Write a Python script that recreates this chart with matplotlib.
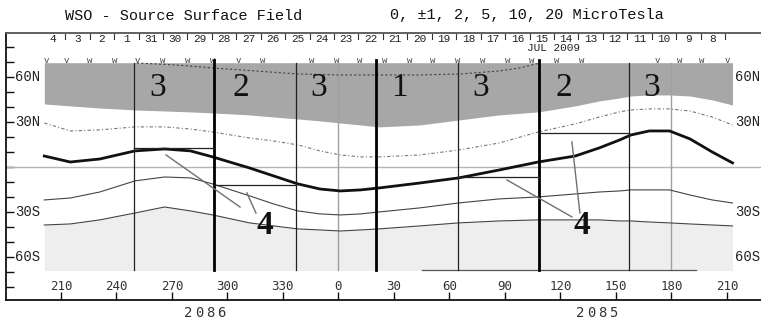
import matplotlib

matplotlib.use("Agg")
import matplotlib.pyplot as plt
import matplotlib.transforms as mtransforms

# Carrington longitude, run continuously (label "0" sits at 360)
LON = [201, 215, 231, 250, 266, 280, 292, 312, 325, 338, 350, 361, 372, 382,
       404, 425, 447, 468, 488, 501, 512, 518, 528, 539, 550, 562, 573]
POLAR_EDGE = [42.0, 40.7, 39.3, 38.0, 37.3, 36.7, 36.0, 34.7, 33.3, 32.0, 30.7, 29.3, 28.0, 26.7,
              28.0, 31.3, 34.7, 36.7, 40.7, 44.0, 46.0, 47.3, 48.0, 48.0, 47.3, 44.7, 41.3]
DOTTED_30N = [29.3, 24.0, 24.7, 26.7, 26.7, 25.3, 23.3, 19.3, 17.3, 14.7, 10.7, 8.0, 6.7, 6.7,
              8.0, 11.3, 16.0, 23.3, 28.7, 33.3, 36.7, 38.0, 38.7, 38.7, 37.3, 33.3, 28.0]
NEUTRAL = [7.3, 3.3, 5.3, 10.7, 12.0, 10.7, 6.7, -0.7, -6.0, -11.3, -14.7, -16.0, -15.3, -14.0,
           -10.7, -7.3, -2.0, 3.3, 7.3, 12.7, 18.0, 21.3, 24.0, 24.0, 18.7, 10.0, 2.7]
CONTOUR_S = [-22.0, -20.7, -16.7, -9.3, -6.7, -7.3, -11.3, -19.3, -24.7, -29.3, -31.3, -32.0, -31.3, -30.0,
             -27.3, -24.0, -21.3, -20.0, -18.0, -16.7, -16.0, -15.3, -15.3, -15.3, -18.7, -22.0, -24.0]
SOUTH_EDGE = [-38.7, -38.0, -35.3, -30.7, -26.7, -29.3, -32.0, -37.3, -39.3, -41.3, -42.0, -42.7, -42.0, -41.3,
              -39.3, -37.3, -36.0, -35.3, -35.3, -35.3, -36.0, -36.0, -36.7, -37.3, -38.0, -38.7, -39.3]

POLAR_DOT_LON = [251, 272, 292, 315, 338, 361, 382, 404, 426, 447, 458, 469]
POLAR_DOT_LAT = [69.3, 68.0, 66.0, 64.0, 62.0, 61.3, 61.3, 61.3, 62.0, 64.0, 66.0, 69.3]

THIN_BOUNDS = [249.5, 337.3, 424.6, 517.0]
THICK_BOUNDS = [292.7, 380.3, 468.4]
GRID_LON = [360, 540]

SECTOR_TEXT = ["3", "2", "3", "1", "3", "2", "3"]
SECTOR_LON = [262.4, 307.3, 349.5, 392.7, 437.0, 481.9, 529.5]

STEP_START = [249.5, 292.7, 424.6, 468.4]
STEP_END = [292.7, 337.3, 468.4, 517.0]
STEP_LAT = [12.7, -12.0, -6.7, 22.7]

POINTER_LON = [(266.8, 306.8), (310.5, 315.4), (451.1, 486.2), (486.2, 490.5)]
POINTER_LAT = [(8.0, -26.7), (-17.3, -30.7), (-8.7, -33.3), (16.7, -30.7)]
FOUR_LON = [320.3, 491.6]

DAYS = [4, 3, 2, 1, 31, 30, 29, 28, 27, 26, 25, 24, 23, 22, 21, 20, 19, 18, 17, 16,
        15, 14, 13, 12, 11, 10, 9, 8]
FIRST_DAY_LON = 205.7
DEG_PER_DAY = 13.21

OBS_LON = [202.4, 213.2, 225.7, 239.2, 251.1, 265.1, 278.6, 292.2, 305.7, 319.2, 345.7, 359.2, 371.6,
           385.1, 398.6, 411.1, 424.6, 438.1, 451.6, 464.6, 478.1, 491.6, 532.2, 544.6, 556.5, 570.5]
OBS_MARK = "vvwwvwwwvwwwwwwwwwwwwwvwwv"

LON_TICKS = [210, 240, 270, 300, 330, 360, 390, 420, 450, 480, 510, 540, 570]
LON_LABELS = ["210", "240", "270", "300", "330", "0", "30", "60", "90", "120", "150", "180", "210"]
LAT_LABELS = {60: "60N", 30: "30N", -30: "30S", -60: "60S"}

MAP_TOP, MAP_BOTTOM = 69.5, -69.0
MONO = "Liberation Mono"


def spaced_text(ax, x, y, s, step_px, **kw):
    # letter-spaced label centred on (x, y)
    n = len(s)
    for i, ch in enumerate(s):
        tr = mtransforms.offset_copy(ax.transData, fig=ax.figure, x=(i - (n - 1) / 2) * step_px, y=0, units="dots")
        ax.text(x, y, ch, transform=tr, ha="center", va="center", clip_on=False, **kw)


fig = plt.figure(figsize=(7.61, 3.25), dpi=100)
ax = fig.add_axes([6 / 761, 1 - 300 / 325, 755 / 761, 267 / 325])
ax.set_xlim(180.3, 588.4)
ax.set_ylim(-88.7, 89.3)

for side in ("left", "bottom"):
    ax.spines[side].set_color("#111111")
    ax.spines[side].set_linewidth(1.3)
ax.spines["top"].set_color("#555555")
ax.spines["top"].set_linewidth(1.3)
ax.spines["right"].set_visible(False)

ax.set_yticks(range(-80, 81, 10))
ax.set_xticks(LON_TICKS)
ax.tick_params(axis="both", direction="in", length=6, width=1, color="#111111",
               labelleft=False, labelbottom=False)

# shaded polar regions
ax.fill_between(LON, POLAR_EDGE, MAP_TOP, color="#a7a7a7", lw=0, zorder=1)
ax.fill_between(LON, MAP_BOTTOM, SOUTH_EDGE, color="#eeeeee", lw=0, zorder=1)

ax.axhline(0, color="#b5b5b5", lw=1, zorder=2)
for lon in GRID_LON:
    ax.plot([lon, lon], [MAP_TOP, MAP_BOTTOM], color="#a0a0a0", lw=1, zorder=2)

ax.plot(POLAR_DOT_LON, POLAR_DOT_LAT, color="#444444", lw=0.8, ls=(0, (2, 2)), zorder=3)
ax.plot(LON, DOTTED_30N, color="#777777", lw=0.8, ls=(0, (3, 2, 1, 2)), zorder=3)
ax.plot(LON, CONTOUR_S, color="#444444", lw=0.8, zorder=3)
ax.plot(LON, SOUTH_EDGE, color="#444444", lw=0.8, zorder=3)
ax.plot([405, 553], [MAP_BOTTOM, MAP_BOTTOM], color="#555555", lw=0.9, zorder=3)
ax.plot(LON, NEUTRAL, color="#111111", lw=2.0, zorder=4)

for lon in THIN_BOUNDS:
    ax.plot([lon, lon], [MAP_TOP, MAP_BOTTOM], color="#222222", lw=0.9, zorder=5)
for lon in THICK_BOUNDS:
    ax.plot([lon, lon], [MAP_TOP + 1.5, MAP_BOTTOM], color="#000000", lw=2.0, zorder=5)

for x0, x1, lat in zip(STEP_START, STEP_END, STEP_LAT):
    ax.plot([x0, x1], [lat, lat], color="#222222", lw=0.9, zorder=5)
for lons, lats in zip(POINTER_LON, POINTER_LAT):
    ax.plot(lons, lats, color="#707070", lw=1.0, zorder=5)

for lon, s in zip(SECTOR_LON, SECTOR_TEXT):
    ax.text(lon, 52.7, s, ha="center", va="center", fontsize=24, family="Liberation Serif",
            color="#111111", zorder=6)
for lon in FOUR_LON:
    ax.text(lon, -39.3, "4", ha="center", va="center", fontsize=24, family="Liberation Serif",
            weight="bold", color="#111111", zorder=6)

# day labels along the top (time runs right to left)
for k, day in enumerate(DAYS):
    lon = FIRST_DAY_LON + DEG_PER_DAY * k
    ax.text(lon, 85.5, str(day), ha="center", va="center", fontsize=8, family=MONO, color="#222222")
    ax.plot([lon + DEG_PER_DAY / 2] * 2, [88.5, 85.0], color="#333333", lw=0.8)
ax.text(476.5, 79.0, "JUL 2009", ha="center", va="center", fontsize=8, family=MONO, color="#222222")

for lon, m in zip(OBS_LON, OBS_MARK):
    ax.text(lon, 71.0, m, ha="center", va="center", fontsize=6.5, family=MONO, color="#444444")

for lat, s in LAT_LABELS.items():
    ax.text(185.1, lat, s, ha="left", va="center", fontsize=10, family=MONO, color="#222222")
    ax.text(574.3, lat, s, ha="left", va="center", fontsize=10, family=MONO, color="#222222")

for lon, s in zip(LON_TICKS, LON_LABELS):
    ax.text(lon, -80.0, s, ha="center", va="center", fontsize=9, family="DejaVu Sans Mono", color="#333333")
spaced_text(ax, 287.8, -97.3, "2086", 11, fontsize=10, family="DejaVu Sans Mono", color="#333333")
spaced_text(ax, 499.7, -97.3, "2085", 11, fontsize=10, family="DejaVu Sans Mono", color="#333333")

fig.text(65 / 761, 1 - 16 / 325, "WSO - Source Surface Field", ha="left", va="center",
         fontsize=11, family=MONO, color="#111111")
fig.text(390 / 761, 1 - 15 / 325, "0, \u00b11, 2, 5, 10, 20 MicroTesla", ha="left", va="center",
         fontsize=11, family=MONO, color="#111111")

fig.savefig("out.png", dpi=100)
